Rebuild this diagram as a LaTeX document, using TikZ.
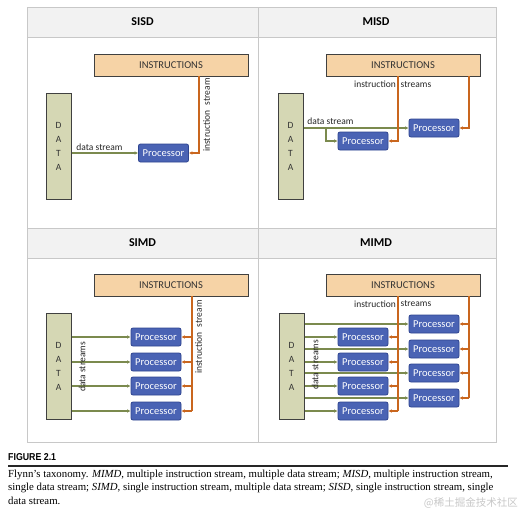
\documentclass[tikz,border=0pt]{standalone}
\usepackage{fontspec}
\setmainfont{Liberation Serif}
\newfontfamily\panelfont{Carlito}
\newfontfamily\figfont{Liberation Sans}
\newfontfamily\cjkfont{Noto Sans CJK SC}
\usetikzlibrary{arrows.meta,calc}
\definecolor{hdrfill}{HTML}{F2F2F2}
\definecolor{gridline}{HTML}{C8C8C8}
\definecolor{instrfill}{HTML}{F6D3A6}
\definecolor{datafill}{HTML}{D5D7B4}
\definecolor{procfill}{HTML}{4A63B4}
\definecolor{procdraw}{HTML}{2E4490}
\definecolor{dgreen}{HTML}{7B8A4E}
\definecolor{iorange}{HTML}{C9661E}
\definecolor{boxdraw}{HTML}{404040}
\tikzset{
  instrbox/.style={draw=boxdraw, line width=1pt, fill=instrfill, minimum width=154pt, minimum height=22pt, inner sep=0pt, font=\panelfont\fontsize{10.5}{12}\selectfont, text=black!80},
  databox/.style={draw=boxdraw, line width=1pt, fill=datafill, minimum width=25pt, minimum height=106pt, inner sep=0pt, align=center, font=\panelfont\fontsize{9.5}{14}\selectfont, text=black!80},
  procbox/.style={draw=procdraw, line width=0.8pt, fill=procfill, rounded corners=2pt, minimum width=50pt, minimum height=18pt, inner sep=0pt, text=white, font=\panelfont\fontsize{10.5}{12}\selectfont},
  darrow/.style={draw=dgreen, line width=1.2pt, -{Latex[length=3.5pt,width=3.5pt]}},
  dline/.style={draw=dgreen, line width=1.2pt},
  iarrow/.style={draw=iorange, line width=1.2pt, -{Latex[length=3.5pt,width=3.5pt]}},
  iline/.style={draw=iorange, line width=1.2pt},
  lbl/.style={font=\panelfont\fontsize{9.5}{11}\selectfont, inner sep=0pt, text=black!85},
  hdr/.style={font=\panelfont\bfseries\fontsize{12}{13}\selectfont, inner sep=0pt},
}
\begin{document}
\begin{tikzpicture}[x=1pt,y=-1pt]
\useasboundingbox (0,0) rectangle (531,515);
% table
\fill[hdrfill] (27,7) rectangle (496,37);
\fill[hdrfill] (27,228.5) rectangle (496,258);
\draw[gridline, line width=0.8pt] (27,7) rectangle (496,442);
\draw[gridline, line width=0.8pt] (258,7) -- (258,442);
\draw[gridline, line width=0.8pt] (27,37) -- (496,37);
\draw[gridline, line width=0.8pt] (27,228.5) -- (496,228.5);
\draw[gridline, line width=0.8pt] (27,258) -- (496,258);
\node[hdr] (h1) at (142.5,22) {SISD};
\node[hdr] (h2) at (376,22) {MISD};
\node[hdr] (h3) at (142.5,243) {SIMD};
\node[hdr] (h4) at (376,243) {MIMD};

% ---------- SISD ----------
\node[instrbox] (i1) at (171,65) {INSTRUCTIONS};
\node[databox] (d1) at (58.5,146) {D\\A\\T\\A};
\node[procbox] (p1) at (163.5,153) {Processor};
\draw[darrow] (d1.east |- p1) -- (p1.west);
\node[lbl] (l1) at (99.5,147) {data stream};
\coordinate (c1) at (199,76);
\draw[iarrow] (c1) |- (p1.east);
\node[lbl, rotate=90] (l2) at (206.5,115) {instruction\hspace{3pt} stream};

% ---------- MISD ----------
\node[instrbox] (i2) at (403,65) {INSTRUCTIONS};
\node[databox] (d2) at (290.5,146) {D\\A\\T\\A};
\node[procbox] (p21) at (363,141) {Processor};
\node[procbox] (p22) at (434,128) {Processor};
\draw[darrow] (d2.east |- p22) -- (p22.west);
\coordinate (b2) at (326,128);
\draw[darrow] (b2) |- (p21.west);
\node[lbl] (l3) at (330.5,121) {data stream};
\coordinate (c21) at (398,76);
\coordinate (c22) at (469,76);
\draw[iarrow] (c21) |- (p21.east);
\draw[iarrow] (c22) |- (p22.east);
\node[lbl, anchor=east] (l4) at (396,84.5) {instruction};
\node[lbl, anchor=west] (l5) at (400.5,84.5) {streams};

% ---------- SIMD ----------
\node[instrbox] (i3) at (171,285.5) {INSTRUCTIONS};
\node[databox] (d3) at (58.5,366.5) {D\\A\\T\\A};
\foreach \k/\yy in {1/337,2/362,3/386,4/411}{
  \node[procbox] (p3\k) at (156,\yy) {Processor};
  \draw[darrow] (d3.east |- p3\k) -- (p3\k.west);
}
\coordinate (c3) at (192,296);
\draw[iline] (c3) -- (c3 |- p34);
\foreach \k in {1,2,3,4}{
  \draw[iarrow] (c3 |- p3\k) -- (p3\k.east);
}
\node[lbl, rotate=90] (l6) at (198.5,337) {instruction\hspace{3pt} stream};
\node[lbl, rotate=90] (l7) at (82,367) {data streams};

% ---------- MIMD ----------
\node[instrbox] (i4) at (403,285.5) {INSTRUCTIONS};
\node[databox] (d4) at (291.5,366) {D\\A\\T\\A};
\foreach \k/\yy in {1/337,2/362,3/386,4/411}{
  \node[procbox] (p4\k) at (363,\yy) {Processor};
}
\foreach \k/\yy in {5/324,6/349,7/373,8/398}{
  \node[procbox] (p4\k) at (434,\yy) {Processor};
}
\foreach \k in {1,...,8}{
  \draw[darrow] (d4.east |- p4\k) -- (p4\k.west);
}
\coordinate (c41) at (398,296);
\coordinate (c42) at (469,296);
\draw[iline] (c41) -- (c41 |- p44);
\draw[iline] (c42) -- (c42 |- p48);
\foreach \k in {1,2,3,4}{
  \draw[iarrow] (c41 |- p4\k) -- (p4\k.east);
}
\foreach \k in {5,6,7,8}{
  \draw[iarrow] (c42 |- p4\k) -- (p4\k.east);
}
\node[lbl, anchor=east] (l8) at (396,304) {instruction};
\node[lbl, anchor=west] (l9) at (400.5,304) {streams};
\node[lbl, rotate=90] (l10) at (315,365) {data streams};

% ---------- caption ----------
\node[anchor=west, inner sep=0pt, font=\figfont\bfseries\fontsize{10}{11}\selectfont] (fig) at (8,457.5) {\scalebox{0.88}[1]{FIGURE 2.1}};
\coordinate (r1) at (8,466);
\coordinate (r2) at (508,466);
\draw[line width=1.6pt, black!85] (r1) -- (r2);
\node[anchor=north west, inner sep=0pt, align=left, font=\fontsize{10.8}{13.5}\selectfont] (cap) at (8,469.5) {Flynn's taxonomy. \textit{MIMD}, multiple instruction stream, multiple data stream; \textit{MISD}, multiple instruction stream,\\ single data stream; \textit{SIMD}, single instruction stream, multiple data stream; \textit{SISD}, single instruction stream, single\\ data stream.};
\node[anchor=east, inner sep=0pt, text=black!22, font=\cjkfont\fontsize{10.5}{12}\selectfont] (wm) at (518,503) {@稀土掘金技术社区};
\end{tikzpicture}
\end{document}
